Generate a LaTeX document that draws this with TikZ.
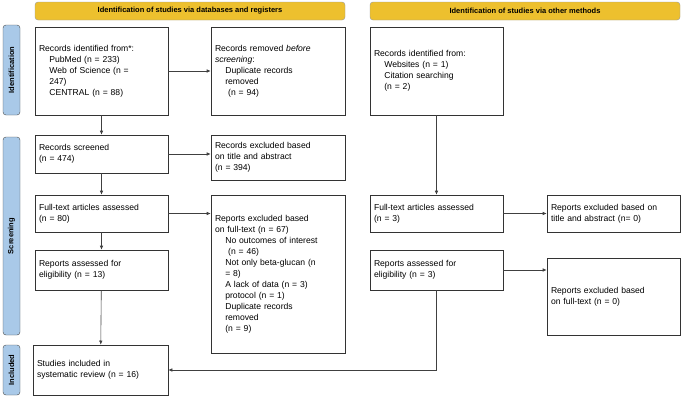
\documentclass[tikz,border=0pt]{standalone}
\usepackage{fontspec}
\setmainfont{Liberation Sans}
\usetikzlibrary{arrows.meta}
\definecolor{headyel}{HTML}{EDC02E}
\definecolor{sideblue}{HTML}{A9C9E8}
\newcommand{\ind}{\hspace*{1.2em}}
\tikzset{
  box/.style={draw=black!80, line width=0.6pt, rectangle, align=left, inner sep=4pt,
    font=\fontsize{8.6}{11}\selectfont},
  head/.style={draw=black!40, fill=headyel, rounded corners=3pt, minimum width=310, minimum height=18,
    font=\bfseries\fontsize{7.5}{9}\selectfont},
  side/.style={draw=black!70, fill=sideblue, rounded corners=3pt, minimum width=17,
    font=\bfseries\fontsize{7.5}{9}\selectfont},
  flow/.style={-{Latex[length=4pt,width=3.5pt]}, draw=black!75, line width=0.6pt}
}
\begin{document}
\begin{tikzpicture}[x=1pt,y=-1pt]
    \useasboundingbox (0,0) rectangle (685,400);
    % headers
    \node[head] (headL) at (190,11) {Identification of studies via databases and registers};
    \node[head] (headR) at (525,11) {Identification of studies via other methods};
    % side bars
    \node[side, minimum height=90] (sideId) at (11.5,70) {};
    \node[rotate=90, font=\bfseries\fontsize{7.5}{9}\selectfont] at (sideId) {Identification};
    \node[side, minimum height=198] (sideSc) at (11.5,236) {};
    \node[rotate=90, font=\bfseries\fontsize{7.5}{9}\selectfont] at (sideSc) {Screening};
    \node[side, minimum height=50] (sideIn) at (11.5,370) {};
    \node[rotate=90, font=\bfseries\fontsize{7.5}{9}\selectfont] at (sideIn) {Included};

    % left column
    \node[box, minimum width=133, minimum height=88, text width=125] (ident) at (101.5,71)
      {Records identified from*:\\\ind PubMed (n = 233)\\\ind Web of Science (n =\\\ind 247)\\\ind CENTRAL (n = 88)};
    \node[box, minimum width=134, minimum height=88, text width=126] (removed) at (278,71)
      {Records removed \textit{before}\\\textit{screening}:\\\ind Duplicate records\\\ind removed\\\ind\ (n = 94)};
    \node[box, minimum width=133, minimum height=38, text width=125] (screened) at (101.5,154)
      {Records screened\\(n = 474)};
    \node[box, minimum width=134, minimum height=45, text width=126] (excl) at (278,157.5)
      {Records excluded based\\on title and abstract\\(n = 394)};
    \node[box, minimum width=133, minimum height=37, text width=125] (fulltext) at (101.5,213.5)
      {Full-text articles assessed\\(n = 80)};
    \node[box, minimum width=134, minimum height=158, text width=126] (exclFull) at (278,274)
      {Reports excluded based\\on full-text (n = 67)\\\ind No outcomes of interest\\\ind\ (n = 46)\\\ind Not only beta-glucan (n\\\ind = 8)\\\ind A lack of data (n = 3)\\\ind protocol (n = 1)\\\ind Duplicate records\\\ind removed\\\ind (n = 9)};
    \node[box, minimum width=133, minimum height=40, text width=125] (assessed) at (101.5,270)
      {Reports assessed for\\eligibility (n = 13)};
    \node[box, minimum width=135, minimum height=50, text width=127] (included) at (100.5,370)
      {Studies included in\\systematic review (n = 16)};

    % right column
    \node[box, minimum width=133, minimum height=88, text width=125] (other) at (436.5,71)
      {Records identified from:\\\ind Websites (n = 1)\\\ind Citation searching\\\ind (n = 2)};
    \node[box, minimum width=133, minimum height=37, text width=125] (fullOther) at (436.5,213.5)
      {Full-text articles assessed\\(n = 3)};
    \node[box, minimum width=133, minimum height=37, text width=125] (exclOther) at (613.5,213.5)
      {Reports excluded based on\\title and abstract (n= 0)};
    \node[box, minimum width=133, minimum height=40, text width=125] (assOther) at (436.5,270)
      {Reports assessed for\\eligibility (n = 3)};
    \node[box, minimum width=133, minimum height=77, text width=125] (exclOther2) at (613.5,296.5)
      {Reports excluded based\\on full-text (n = 0)};
    \coordinate (turn) at (436.5,370);

    % connectors
    \draw[flow] (ident) -- (removed);
    \draw[flow] (ident) -- (screened);
    \draw[flow] (screened) -- (screened -| excl.west);
    \draw[flow] (screened) -- (fulltext);
    \draw[flow] (fulltext) -- (fulltext -| exclFull.west);
    \draw[flow] (fulltext) -- (assessed);
    \draw[flow] (assessed) -- (included);
    \draw[flow] (other) -- (fullOther);
    \draw[flow] (fullOther) -- (exclOther);
    \draw[flow] (assOther.east) -- (assOther.east -| exclOther2.west);
    \draw[flow] (assOther.south) -- (turn) -- (included);
\end{tikzpicture}
\end{document}
